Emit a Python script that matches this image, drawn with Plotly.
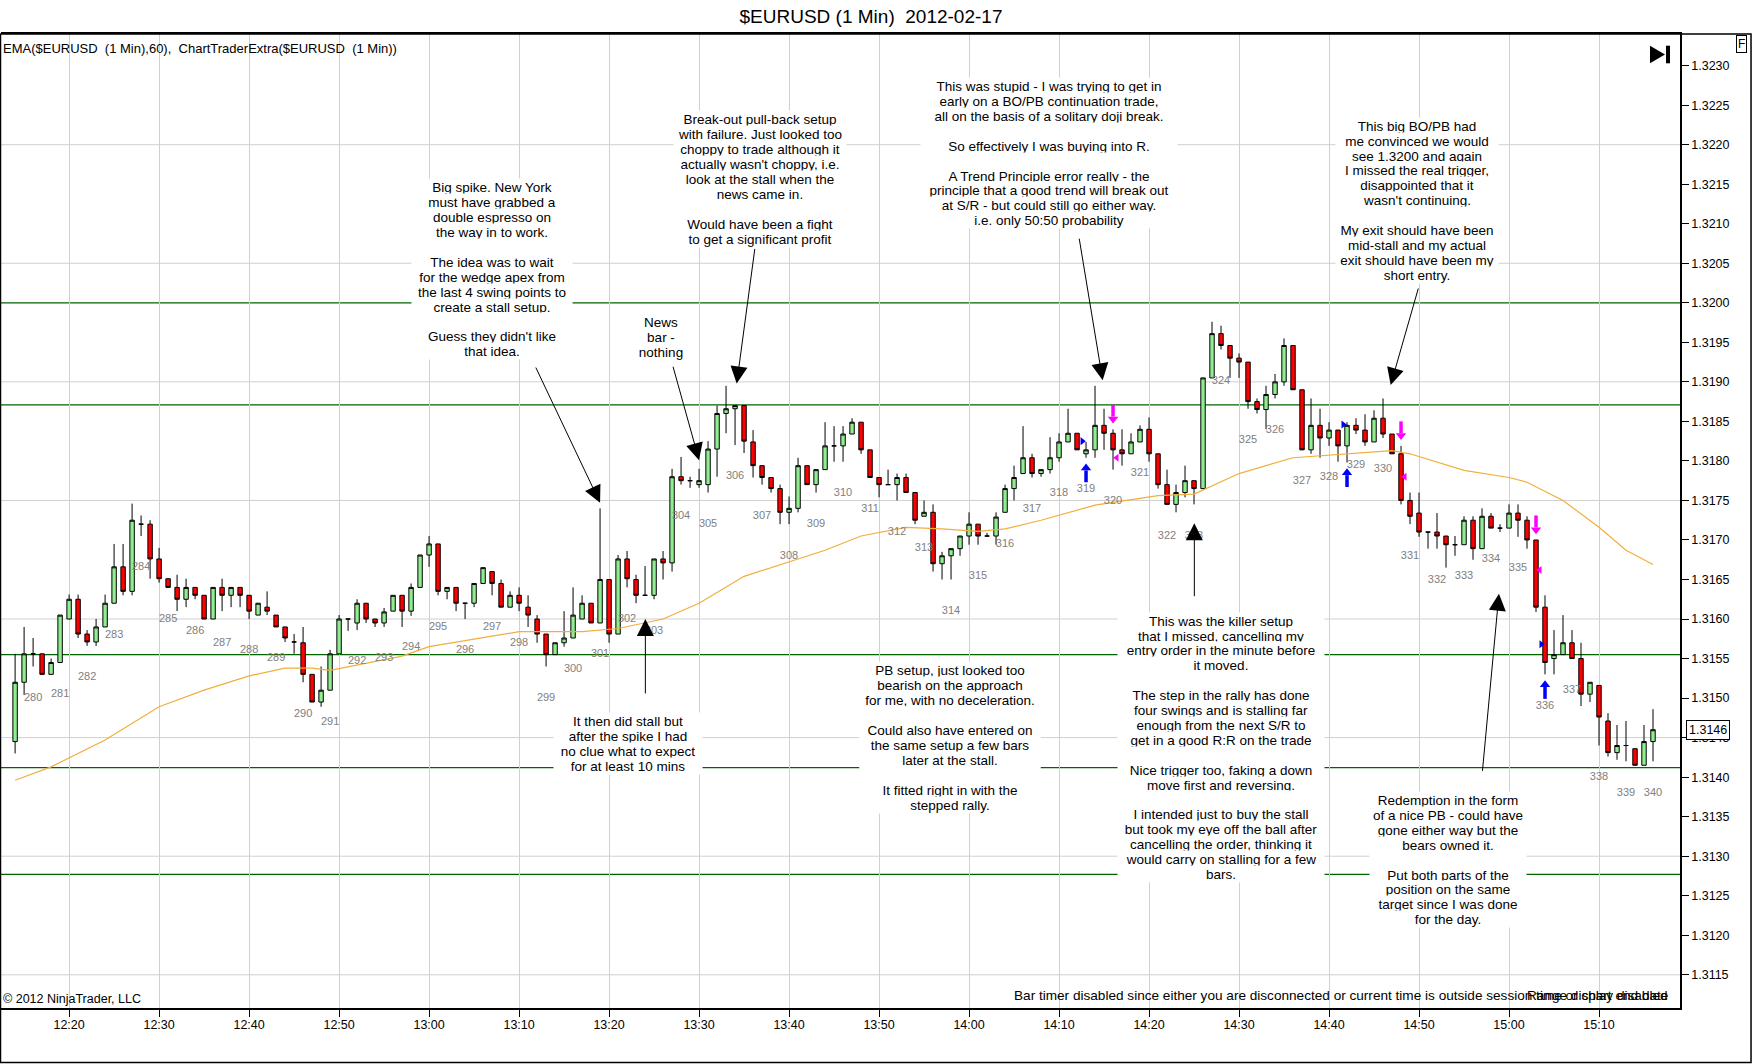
import pandas as pd
import plotly.graph_objects as go

FONT = "Liberation Sans, Arial, sans-serif"

# 1 minute bars of $EURUSD, first bar at 12:14
opens = [1.31445, 1.31520, 1.31556, 1.31556, 1.31530, 1.31545, 1.31600, 1.31625, 1.31581, 1.31571,
         1.31590, 1.31620, 1.31666, 1.31635, 1.31720, 1.31720, 1.31676, 1.31651, 1.31640, 1.31625,
         1.31640, 1.31630, 1.31600, 1.31640, 1.31630, 1.31640, 1.31630, 1.31605, 1.31615, 1.31605,
         1.31590, 1.31571, 1.31570, 1.31530, 1.31495, 1.31510, 1.31556, 1.31600, 1.31595, 1.31620,
         1.31600, 1.31595, 1.31610, 1.31630, 1.31610, 1.31640, 1.31681, 1.31695, 1.31635, 1.31640,
         1.31620, 1.31620, 1.31645, 1.31660, 1.31645, 1.31615, 1.31630, 1.31615, 1.31600, 1.31581,
         1.31555, 1.31570, 1.31576, 1.31600, 1.31620, 1.31595, 1.31650, 1.31581, 1.31676, 1.31650,
         1.31630, 1.31630, 1.31676, 1.31671, 1.31780, 1.31775, 1.31770, 1.31770, 1.31815, 1.31860,
         1.31866, 1.31870, 1.31824, 1.31794, 1.31779, 1.31765, 1.31735, 1.31740, 1.31794, 1.31770,
         1.31789, 1.31819, 1.31819, 1.31834, 1.31849, 1.31814, 1.31779, 1.31770, 1.31770, 1.31779,
         1.31760, 1.31730, 1.31735, 1.31670, 1.31680, 1.31689, 1.31705, 1.31720, 1.31705, 1.31705,
         1.31735, 1.31765, 1.31784, 1.31804, 1.31784, 1.31789, 1.31804, 1.31824, 1.31835, 1.31809,
         1.31814, 1.31845, 1.31835, 1.31814, 1.31809, 1.31824, 1.31840, 1.31809, 1.31770, 1.31745,
         1.31760, 1.31775, 1.31765, 1.31905, 1.31961, 1.31946, 1.31930, 1.31925, 1.31875, 1.31865,
         1.31884, 1.31900, 1.31946, 1.31890, 1.31814, 1.31845, 1.31829, 1.31839, 1.31819, 1.31845,
         1.31839, 1.31824, 1.31854, 1.31834, 1.31809, 1.31750, 1.31734, 1.31710, 1.31710, 1.31705,
         1.31694, 1.31694, 1.31725, 1.31689, 1.31730, 1.31715, 1.31715, 1.31734, 1.31725, 1.31700,
         1.31615, 1.31550, 1.31555, 1.31570, 1.31550, 1.31505, 1.31516, 1.31471, 1.31431, 1.31440,
         1.31436, 1.31415, 1.31445]
highs = [1.31556, 1.31590, 1.31576, 1.31556, 1.31550, 1.31605, 1.31631, 1.31631, 1.31586, 1.31600,
         1.31631, 1.31695, 1.31695, 1.31746, 1.31731, 1.31725, 1.31690, 1.31651, 1.31656, 1.31651,
         1.31640, 1.31630, 1.31640, 1.31651, 1.31640, 1.31640, 1.31630, 1.31620, 1.31635, 1.31605,
         1.31590, 1.31581, 1.31590, 1.31530, 1.31540, 1.31561, 1.31605, 1.31600, 1.31625, 1.31620,
         1.31600, 1.31614, 1.31630, 1.31630, 1.31645, 1.31681, 1.31705, 1.31695, 1.31640, 1.31640,
         1.31620, 1.31645, 1.31665, 1.31660, 1.31650, 1.31635, 1.31640, 1.31630, 1.31605, 1.31581,
         1.31570, 1.31610, 1.31640, 1.31630, 1.31620, 1.31740, 1.31650, 1.31681, 1.31686, 1.31656,
         1.31667, 1.31676, 1.31686, 1.31790, 1.31805, 1.31780, 1.31790, 1.31825, 1.31870, 1.31895,
         1.31870, 1.31870, 1.31839, 1.31794, 1.31779, 1.31770, 1.31755, 1.31804, 1.31794, 1.31789,
         1.31849, 1.31844, 1.31844, 1.31854, 1.31849, 1.31814, 1.31779, 1.31789, 1.31784, 1.31784,
         1.31760, 1.31750, 1.31745, 1.31685, 1.31689, 1.31705, 1.31735, 1.31720, 1.31709, 1.31735,
         1.31770, 1.31794, 1.31844, 1.31809, 1.31789, 1.31830, 1.31835, 1.31866, 1.31835, 1.31824,
         1.31895, 1.31866, 1.31840, 1.31840, 1.31835, 1.31845, 1.31855, 1.31809, 1.31789, 1.31770,
         1.31794, 1.31775, 1.31905, 1.31976, 1.31971, 1.31946, 1.31936, 1.31925, 1.31879, 1.31895,
         1.31910, 1.31955, 1.31946, 1.31890, 1.31879, 1.31866, 1.31849, 1.31839, 1.31849, 1.31854,
         1.31859, 1.31864, 1.31879, 1.31834, 1.31819, 1.31760, 1.31760, 1.31710, 1.31734, 1.31705,
         1.31705, 1.31730, 1.31730, 1.31740, 1.31734, 1.31720, 1.31745, 1.31745, 1.31730, 1.31700,
         1.31630, 1.31586, 1.31605, 1.31586, 1.31570, 1.31520, 1.31516, 1.31481, 1.31466, 1.31471,
         1.31436, 1.31466, 1.31486]
lows = [1.31430, 1.31504, 1.31540, 1.31530, 1.31530, 1.31545, 1.31600, 1.31576, 1.31566, 1.31566,
        1.31590, 1.31620, 1.31630, 1.31630, 1.31705, 1.31651, 1.31646, 1.31640, 1.31610, 1.31615,
        1.31625, 1.31600, 1.31600, 1.31610, 1.31615, 1.31615, 1.31600, 1.31605, 1.31605, 1.31590,
        1.31571, 1.31556, 1.31520, 1.31495, 1.31489, 1.31510, 1.31556, 1.31585, 1.31586, 1.31595,
        1.31590, 1.31590, 1.31610, 1.31590, 1.31604, 1.31640, 1.31666, 1.31630, 1.31625, 1.31610,
        1.31600, 1.31615, 1.31645, 1.31630, 1.31615, 1.31615, 1.31610, 1.31590, 1.31570, 1.31540,
        1.31555, 1.31565, 1.31576, 1.31600, 1.31595, 1.31595, 1.31570, 1.31581, 1.31640, 1.31620,
        1.31630, 1.31625, 1.31650, 1.31660, 1.31770, 1.31766, 1.31766, 1.31760, 1.31780, 1.31835,
        1.31820, 1.31810, 1.31779, 1.31770, 1.31760, 1.31720, 1.31720, 1.31735, 1.31770, 1.31760,
        1.31789, 1.31799, 1.31799, 1.31834, 1.31809, 1.31779, 1.31754, 1.31770, 1.31750, 1.31760,
        1.31720, 1.31730, 1.31660, 1.31650, 1.31650, 1.31680, 1.31694, 1.31694, 1.31705, 1.31694,
        1.31735, 1.31750, 1.31784, 1.31779, 1.31780, 1.31784, 1.31799, 1.31824, 1.31814, 1.31804,
        1.31804, 1.31814, 1.31789, 1.31794, 1.31809, 1.31824, 1.31799, 1.31765, 1.31745, 1.31735,
        1.31754, 1.31745, 1.31765, 1.31905, 1.31941, 1.31905, 1.31905, 1.31866, 1.31860, 1.31840,
        1.31879, 1.31895, 1.31890, 1.31814, 1.31809, 1.31804, 1.31819, 1.31799, 1.31798, 1.31834,
        1.31819, 1.31824, 1.31829, 1.31809, 1.31745, 1.31720, 1.31704, 1.31689, 1.31689, 1.31665,
        1.31680, 1.31694, 1.31675, 1.31689, 1.31715, 1.31710, 1.31715, 1.31704, 1.31689, 1.31609,
        1.31530, 1.31530, 1.31555, 1.31550, 1.31490, 1.31495, 1.31440, 1.31426, 1.31422, 1.31420,
        1.31415, 1.31415, 1.31420]
closes = [1.31520, 1.31556, 1.31556, 1.31530, 1.31545, 1.31605, 1.31625, 1.31581, 1.31571, 1.31590,
          1.31620, 1.31666, 1.31635, 1.31725, 1.31720, 1.31676, 1.31651, 1.31640, 1.31625, 1.31640,
          1.31630, 1.31600, 1.31640, 1.31630, 1.31640, 1.31630, 1.31610, 1.31620, 1.31610, 1.31590,
          1.31576, 1.31571, 1.31530, 1.31495, 1.31510, 1.31556, 1.31600, 1.31600, 1.31620, 1.31600,
          1.31595, 1.31609, 1.31630, 1.31610, 1.31640, 1.31681, 1.31695, 1.31635, 1.31640, 1.31620,
          1.31620, 1.31645, 1.31665, 1.31645, 1.31615, 1.31630, 1.31620, 1.31605, 1.31581, 1.31555,
          1.31570, 1.31576, 1.31605, 1.31620, 1.31595, 1.31650, 1.31581, 1.31676, 1.31651, 1.31630,
          1.31630, 1.31676, 1.31671, 1.31780, 1.31775, 1.31775, 1.31775, 1.31815, 1.31860, 1.31866,
          1.31870, 1.31825, 1.31794, 1.31779, 1.31765, 1.31735, 1.31740, 1.31794, 1.31770, 1.31789,
          1.31819, 1.31819, 1.31834, 1.31849, 1.31814, 1.31779, 1.31770, 1.31770, 1.31779, 1.31760,
          1.31725, 1.31735, 1.31670, 1.31680, 1.31689, 1.31705, 1.31720, 1.31705, 1.31705, 1.31729,
          1.31765, 1.31779, 1.31804, 1.31784, 1.31789, 1.31804, 1.31824, 1.31835, 1.31814, 1.31814,
          1.31845, 1.31835, 1.31814, 1.31809, 1.31824, 1.31840, 1.31809, 1.31770, 1.31745, 1.31760,
          1.31775, 1.31765, 1.31905, 1.31961, 1.31946, 1.31930, 1.31925, 1.31875, 1.31865, 1.31884,
          1.31900, 1.31946, 1.31890, 1.31814, 1.31845, 1.31829, 1.31839, 1.31819, 1.31845, 1.31839,
          1.31824, 1.31854, 1.31834, 1.31809, 1.31750, 1.31730, 1.31710, 1.31710, 1.31705, 1.31694,
          1.31694, 1.31725, 1.31689, 1.31730, 1.31715, 1.31715, 1.31734, 1.31725, 1.31700, 1.31615,
          1.31545, 1.31555, 1.31570, 1.31550, 1.31505, 1.31520, 1.31476, 1.31431, 1.31440, 1.31440,
          1.31415, 1.31445, 1.31460]

times = pd.date_range("2012-02-17 12:14", periods=len(opens), freq="1min")

# EMA(60) at sample bars
ema_bars = [0, 4, 10, 16, 21, 26, 30, 33, 35, 39, 43, 46, 52, 56, 63, 67, 72, 76, 81, 86,
            90, 94, 99, 103, 107, 110, 114, 120, 127, 131, 136, 142, 148, 153, 155, 161, 166,
            168, 172, 176, 179, 182]
ema_vals = [1.31396, 1.31413, 1.31447, 1.31489, 1.31510, 1.31528, 1.31538, 1.31538, 1.31535,
            1.31544, 1.31553, 1.31565, 1.31576, 1.31584, 1.31584, 1.31588, 1.31600, 1.31620,
            1.31654, 1.31672, 1.31687, 1.31705, 1.31716, 1.31714, 1.31711, 1.31714, 1.31725,
            1.31744, 1.31756, 1.31758, 1.31784, 1.31804, 1.31809, 1.31813, 1.31809, 1.31788,
            1.31779, 1.31773, 1.31750, 1.31716, 1.31687, 1.31669]

# support / resistance lines drawn on the chart
sr_levels = [1.32000, 1.31871, 1.31555, 1.31412, 1.31277]
grid_levels = [1.3220, 1.3205, 1.3190, 1.3175, 1.3160, 1.3145, 1.3130, 1.3115]

# bar counter labels every third bar
label_nums = list(range(280, 341))
label_bars = [2 + 3 * k for k in range(len(label_nums))]

# ChartTrader signals
buy_bars = [119, 148, 170]
sell_bars = [122, 154, 169]
entry_bars = [119, 148, 170]
entry_prices = [1.31825, 1.31846, 1.31568]
exit_bars = [122, 154, 169]
exit_prices = [1.31804, 1.31780, 1.31662]

notes = [
    ("13:07:00", 1.32146, 160, ["Big spike. New York", "must have grabbed a", "double espresso on",
                                "the way in to work.", "", "The idea was to wait",
                                "for the wedge apex from", "the last 4 swing points to",
                                "create a stall setup.", "", "Guess they didn't like", "that idea."]),
    ("13:25:47", 1.31976, 58, ["News", "bar -", "nothing"]),
    ("13:36:47", 1.32232, 172, ["Break-out pull-back setup", "with failure. Just looked too",
                                "choppy to trade although it", "actually wasn't choppy, i.e.",
                                "look at the stall when the", "news came in.", "",
                                "Would have been a fight", "to get a significant profit"]),
    ("14:08:53", 1.32274, 256, ["This was stupid - I was trying to get in",
                                "early on a BO/PB continuation trade,",
                                "all on the basis of a solitary doji break.", "",
                                "So effectively I was buying into R.", "",
                                "A Trend Principle error really - the",
                                "principle that a good trend will break out",
                                "at S/R - but could still go either way.",
                                "i.e. only 50:50 probability"]),
    ("14:49:47", 1.32224, 162, ["This big BO/PB had", "me convinced we would", "see 1.3200 and again",
                                "I missed the real trigger,", "disappointed that it",
                                "wasn't continuing.", "", "My exit should have been",
                                "mid-stall and my actual", "exit should have been my", "short entry."]),
    ("13:22:07", 1.31471, 148, ["It then did stall but", "after the spike I had",
                                "no clue what to expect", "for at least 10 mins"]),
    ("13:57:53", 1.31535, 180, ["PB setup, just looked too", "bearish on the approach",
                                "for me, with no deceleration.", "", "Could also have entered on",
                                "the same setup a few bars", "later at the stall.", "",
                                "It fitted right in with the", "stepped rally."]),
    ("14:28:00", 1.31598, 206, ["This was the killer setup", "that I missed, cancelling my",
                                "entry order in the minute before", "it moved.", "",
                                "The step in the rally has done", "four swings and is stalling far",
                                "enough from the next S/R to", "get in a good R:R on the trade", "",
                                "Nice trigger too, faking a down", "move first and reversing.", "",
                                "I intended just to buy the stall", "but took my eye off the ball after",
                                "cancelling the order, thinking it", "would carry on stalling for a few",
                                "bars."]),
    ("14:53:13", 1.31371, 156, ["Redemption in the form", "of a nice PB - could have",
                                "gone either way but the", "bears owned it.", "",
                                "Put both parts of the", "position on the same",
                                "target since I was done", "for the day."]),
]

# arrows: tail time, tail price, head time, head price
arrows = [
    ("13:11:47", 1.31920, "13:19:00", 1.31747),
    ("13:27:04", 1.31921, "13:30:00", 1.31801),
    ("13:36:13", 1.32070, "13:34:11", 1.31898),
    ("14:12:13", 1.32083, "14:14:51", 1.31902),
    ("14:49:58", 1.32020, "14:46:51", 1.31896),
    ("13:24:02", 1.31504, "13:24:02", 1.31600),
    ("14:25:02", 1.31627, "14:25:02", 1.31721),
    ("14:57:02", 1.31406, "14:58:53", 1.31632),
]

day = "2012-02-17 "
fig = go.Figure()

fig.add_trace(go.Candlestick(
    x=times, open=opens, high=highs, low=lows, close=closes,
    increasing=dict(fillcolor="#90EE90", line=dict(color="black", width=1)),
    decreasing=dict(fillcolor="#FF0000", line=dict(color="black", width=1)),
    whiskerwidth=0, hoverinfo="skip"))

fig.add_trace(go.Scatter(x=times[ema_bars], y=ema_vals, mode="lines",
                         line=dict(color="#F2AE3C", width=1.2), hoverinfo="skip"))

fig.add_trace(go.Scatter(x=times[label_bars], y=[lows[b] - 0.0004 for b in label_bars],
                         mode="text", text=[str(n) for n in label_nums],
                         textfont=dict(family=FONT, size=11, color="#808080"), hoverinfo="skip"))

# buy / sell arrows
sx, sy = [], []
for b in buy_bars:
    sx += [times[b], times[b], None]
    sy += [lows[b] - 0.00031, lows[b] - 0.00016, None]
fig.add_trace(go.Scatter(x=sx, y=sy, mode="lines", line=dict(color="blue", width=3.5), hoverinfo="skip"))
fig.add_trace(go.Scatter(x=times[buy_bars], y=[lows[b] - 0.00013 for b in buy_bars], mode="markers",
                         marker=dict(symbol="triangle-up", size=9, color="blue"), hoverinfo="skip"))
sx, sy = [], []
for b in sell_bars:
    sx += [times[b], times[b], None]
    sy += [highs[b] + 0.00031, highs[b] + 0.00016, None]
fig.add_trace(go.Scatter(x=sx, y=sy, mode="lines", line=dict(color="#FF00FF", width=3.5), hoverinfo="skip"))
fig.add_trace(go.Scatter(x=times[sell_bars], y=[highs[b] + 0.00013 for b in sell_bars], mode="markers",
                         marker=dict(symbol="triangle-down", size=9, color="#FF00FF"), hoverinfo="skip"))

fig.add_trace(go.Scatter(x=times[entry_bars] - pd.Timedelta(seconds=25), y=entry_prices, mode="markers",
                         marker=dict(symbol="triangle-right", size=7, color="blue"), hoverinfo="skip"))
fig.add_trace(go.Scatter(x=times[exit_bars] + pd.Timedelta(seconds=25), y=exit_prices, mode="markers",
                         marker=dict(symbol="triangle-left", size=7, color="#FF00FF"), hoverinfo="skip"))

for lvl in grid_levels:
    fig.add_shape(type="line", xref="paper", x0=0, x1=1, yref="y", y0=lvl, y1=lvl,
                  line=dict(color="#D0D0D0", width=1), layer="below")
for lvl in sr_levels:
    fig.add_shape(type="line", xref="paper", x0=0, x1=1, yref="y", y0=lvl, y1=lvl,
                  line=dict(color="#006400", width=1.2), layer="below")

for t, p, w, lines in notes:
    for k, line in enumerate(lines):
        fig.add_annotation(x=day + t, y=p, xref="x", yref="y", text=line or "\u00a0",
                           showarrow=False, yshift=-14.9 * k, width=w, height=16, borderpad=0,
                           bgcolor="white", align="center", xanchor="center", yanchor="middle",
                           font=dict(family=FONT, size=13.5, color="black"))

for tt, tp, ht, hp in arrows:
    fig.add_annotation(x=day + ht, y=hp, ax=day + tt, ay=tp, xref="x", yref="y", axref="x", ayref="y",
                       text="", showarrow=True, arrowhead=2, arrowsize=3.4, arrowwidth=1,
                       arrowcolor="black", standoff=0)

# chrome
fig.add_annotation(xref="paper", yref="paper", x=0.0, y=0.9856, xanchor="left", yanchor="middle",
                   text="EMA($EURUSD\u00a0 (1 Min),60),\u00a0 ChartTraderExtra($EURUSD\u00a0 (1 Min))",
                   showarrow=False, font=dict(family=FONT, size=13, color="black"))
fig.add_annotation(xref="paper", yref="paper", x=0.0, y=0.0092, xanchor="left", yanchor="middle",
                   text="\u00a9 2012 NinjaTrader, LLC", showarrow=False,
                   font=dict(family=FONT, size=12.5, color="black"))
fig.add_annotation(xref="paper", yref="paper", x=0.994, y=0.0133, xanchor="right", yanchor="middle",
                   text="Bar timer disabled since either you are disconnected or current time is outside session time or chart end date",
                   showarrow=False, font=dict(family=FONT, size=13.6, color="black"))
fig.add_annotation(xref="paper", yref="paper", x=0.994, y=0.0133, xanchor="right", yanchor="middle",
                   text="Range display disabled", showarrow=False,
                   font=dict(family=FONT, size=13.6, color="black"))
fig.add_annotation(xref="paper", yref="y", x=1.0, y=closes[-1], xanchor="left", yanchor="middle",
                   xshift=6, text=f"{closes[-1]:.4f}", showarrow=False, bgcolor="white",
                   bordercolor="black", borderwidth=1, borderpad=2,
                   font=dict(family=FONT, size=12.5, color="black"))
fig.add_annotation(xref="paper", yref="paper", x=1.0369, y=0.9897, xanchor="center", yanchor="middle",
                   text="F", showarrow=False, bgcolor="white", bordercolor="black", borderwidth=1,
                   borderpad=1, font=dict(family=FONT, size=12, color="black"))
fig.add_shape(type="path", xref="paper", yref="paper",
              path="M 0.98213 0.98799 L 0.98213 0.96992 L 0.99107 0.97895 Z",
              fillcolor="black", line=dict(width=0))
fig.add_shape(type="rect", xref="paper", yref="paper", x0=0.99166, x1=0.99404, y0=0.96992, y1=0.98799,
              fillcolor="black", line=dict(width=0))
fig.add_shape(type="rect", xref="paper", yref="paper", x0=-0.0003, x1=1.0423, y0=-0.0560, y1=1.0,
              line=dict(color="black", width=1.5))

fig.update_layout(
    width=1752, height=1064,
    margin=dict(l=1, r=72, t=34, b=56),
    paper_bgcolor="white", plot_bgcolor="white",
    showlegend=False,
    title=dict(text="$EURUSD (1 Min)\u00a0 2012-02-17", x=871 / 1752, xref="container", xanchor="center",
               y=1 - 16 / 1064, yref="container", yanchor="middle",
               font=dict(family=FONT, size=19, color="black")),
    xaxis=dict(type="date", range=["2012-02-17 12:12:26", "2012-02-17 15:19:00"],
               rangeslider=dict(visible=False), tickformat="%H:%M", dtick=600000,
               tick0="2012-02-17 12:20", showgrid=True, gridcolor="#D0D0D0", gridwidth=1,
               ticks="outside", ticklen=7, tickcolor="black", showline=True, linecolor="black",
               linewidth=1.5, mirror=True, zeroline=False, ticklabelstandoff=-3,
               tickfont=dict(family=FONT, size=12.5, color="black")),
    yaxis=dict(side="right", range=[1.31108, 1.32340], dtick=0.0005, tick0=1.3115,
               tickformat=".4f", showgrid=False, zeroline=False, ticks="outside", ticklen=7,
               tickcolor="black", showline=True, linecolor="black", linewidth=1.5,
               tickfont=dict(family=FONT, size=12.5, color="black")),
)

fig.write_html("out.html", config={"displayModeBar": False},
               post_script="document.body.style.margin='0px';")
